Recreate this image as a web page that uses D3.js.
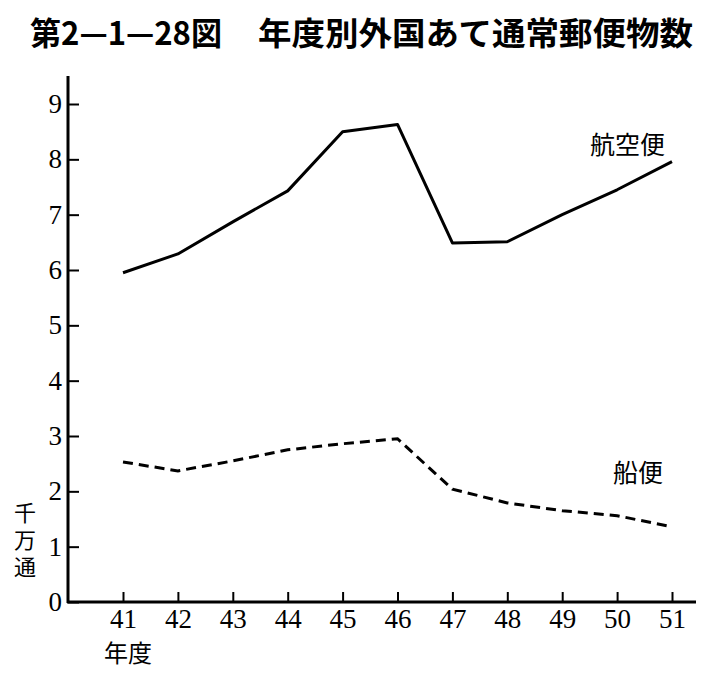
<!DOCTYPE html>
<html>
<head>
<meta charset="utf-8">
<script src="https://cdn.jsdelivr.net/npm/d3@7"></script>
<style>
  body { margin: 0; background: #fff; }
  svg { display: block; }
</style>
</head>
<body>
<div id="chart"></div>
<script>
// 年度 (昭和)
let years = [41, 42, 43, 44, 45, 46, 47, 48, 49, 50, 51];
// 千万通
let airMail = [5.95, 6.29, 6.87, 7.43, 8.5, 8.63, 6.49, 6.51, 7.0, 7.45, 7.96];
let seaMail = [2.53, 2.37, 2.55, 2.75, 2.86, 2.95, 2.04, 1.79, 1.65, 1.56, 1.36];
let yTicks = [0, 1, 2, 3, 4, 5, 6, 7, 8, 9];

let numFont = "'Liberation Serif'";

let svg = d3.select("#chart").append("svg")
    .attr("width", 717)
    .attr("height", 681);

let x = d3.scaleLinear().domain([41, 51]).range([123, 672]);
let y = d3.scaleLinear().domain([0, 9]).range([602, 104]);

// title
svg.append("text")
    .attr("x", 30).attr("y", 45)
    .attr("textLength", 192).attr("lengthAdjust", "spacingAndGlyphs")
    .style("font-family", "'Noto Sans CJK JP'")
    .style("font-weight", 700)
    .style("font-size", "32px")
    .text("第2—1—28図");
svg.append("text")
    .attr("x", 258).attr("y", 45)
    .attr("textLength", 435).attr("lengthAdjust", "spacingAndGlyphs")
    .style("font-family", "'Noto Sans CJK JP'")
    .style("font-weight", 700)
    .style("font-size", "32px")
    .text("年度別外国あて通常郵便物数");

// axes
let yAxis = d3.axisLeft(y).tickValues(yTicks).tickSizeInner(-11).tickSizeOuter(0).tickPadding(6);
let gy = svg.append("g").attr("transform", "translate(68,0)").call(yAxis)
    .attr("font-size", 27);
gy.select(".domain").remove();

let xAxis = d3.axisBottom(x).tickValues(years).tickSizeInner(-10).tickSizeOuter(0);
let gx = svg.append("g").attr("transform", "translate(0,602)").call(xAxis)
    .attr("font-size", 27);
gx.select(".domain").remove();
gx.selectAll("text").attr("y", 26).attr("dy", 0);

svg.selectAll(".tick line").attr("stroke", "#000").attr("stroke-width", 2);
svg.selectAll(".tick text")
    .attr("font-family", numFont)
    .style("font-family", numFont)
    .attr("fill", "#000");

svg.append("line")
    .attr("x1", 68).attr("x2", 68).attr("y1", 76).attr("y2", 603)
    .attr("stroke", "#000").attr("stroke-width", 3);
svg.append("line")
    .attr("x1", 67).attr("x2", 696).attr("y1", 602).attr("y2", 602)
    .attr("stroke", "#000").attr("stroke-width", 3);

// axis unit label, written vertically
svg.append("text")
    .attr("x", 25).attr("y", 502)
    .style("writing-mode", "vertical-rl")
    .style("letter-spacing", "5px")
    .style("font-family", "'Noto Sans CJK JP'")
    .style("font-size", "22px")
    .text("千万通");
svg.append("text")
    .attr("x", 128).attr("y", 662)
    .attr("text-anchor", "middle")
    .style("font-family", "'Noto Sans CJK JP'")
    .style("font-size", "24px")
    .text("年度");

// lines
let line = d3.line().x((d, i) => x(years[i])).y(d => y(d));

svg.append("path")
    .datum(airMail)
    .attr("d", line)
    .attr("fill", "none")
    .attr("stroke", "#000")
    .attr("stroke-width", 3)
    .attr("stroke-linejoin", "round");

svg.append("path")
    .datum(seaMail)
    .attr("d", line)
    .attr("fill", "none")
    .attr("stroke", "#000")
    .attr("stroke-width", 3)
    .attr("stroke-dasharray", "10,6");

// series labels
svg.append("text")
    .attr("x", 590).attr("y", 154)
    .style("font-family", "'Noto Sans CJK JP'")
    .style("font-size", "25px")
    .text("航空便");
svg.append("text")
    .attr("x", 613).attr("y", 482)
    .style("font-family", "'Noto Sans CJK JP'")
    .style("font-size", "25px")
    .text("船便");
</script>
</body>
</html>
